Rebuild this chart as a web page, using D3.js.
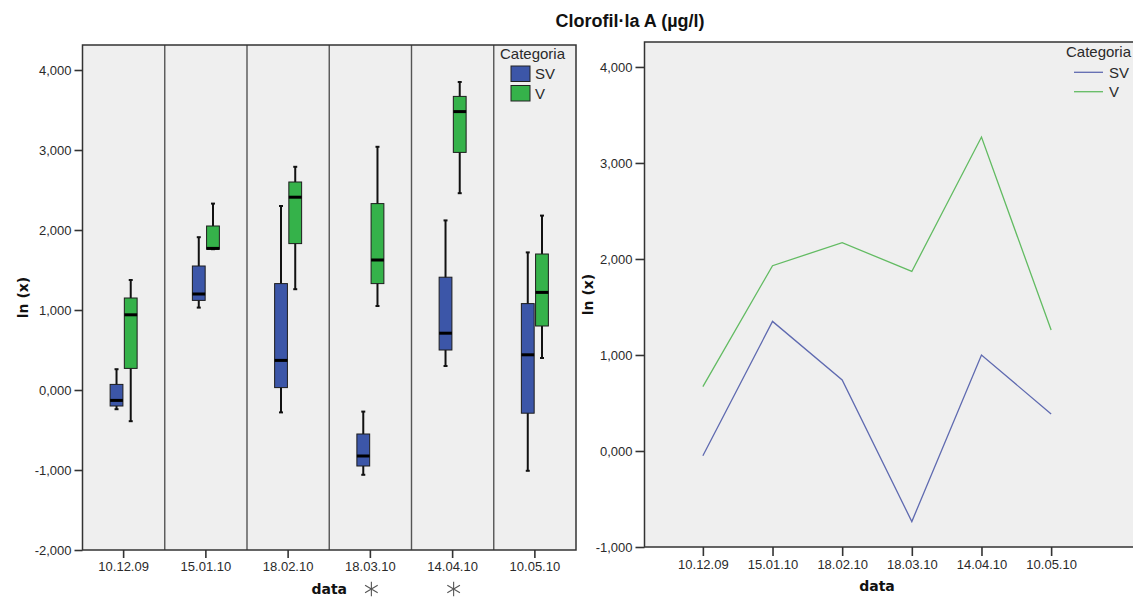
<!DOCTYPE html>
<html><head><meta charset="utf-8">
<script src="https://cdn.jsdelivr.net/npm/d3@7"></script>
<style>
body{margin:0;background:#fff;}
svg{display:block;font-family:"Liberation Sans",Arial,sans-serif;}
</style>
</head><body>
<svg id="c" width="1133" height="597"></svg>
<script>
// ---------- DATA ----------
const dates = ["10.12.09","15.01.10","18.02.10","18.03.10","14.04.10","10.05.10"];
const categories = ["SV","V"];
// boxplot stats per date: [min, q1, median, q3, max]
const boxSV = [
  [-0.24, -0.20, -0.13, 0.07, 0.26],
  [1.03, 1.12, 1.20, 1.55, 1.91],
  [-0.28, 0.03, 0.37, 1.33, 2.30],
  [-1.06, -0.95, -0.825, -0.55, -0.27],
  [0.30, 0.50, 0.71, 1.41, 2.12],
  [-1.01, -0.29, 0.44, 1.08, 1.72]
];
const boxV = [
  [-0.39, 0.27, 0.94, 1.15, 1.375],
  [1.76, 1.76, 1.77, 2.05, 2.33],
  [1.26, 1.83, 2.41, 2.60, 2.79],
  [1.05, 1.33, 1.625, 2.33, 3.04],
  [2.46, 2.97, 3.48, 3.67, 3.85],
  [0.40, 0.80, 1.22, 1.70, 2.18]
];
// means per date (line chart)
const meanSV = [-0.05, 1.35, 0.74, -0.735, 1.00, 0.385];
const meanV  = [0.67, 1.93, 2.17, 1.87, 3.27, 1.26];
const yTicksLeft  = [-2, -1, 0, 1, 2, 3, 4];
const yTicksRight = [-1, 0, 1, 2, 3, 4];
const significantDates = ["18.03.10", "14.04.10"];
const title = "Clorofil·la A (µg/l)";
const yTitle = "ln (x)";
const xTitle = "data";
const legendTitle = "Categoria";

// ---------- STYLE ----------
const fillColors = {SV: "#3c56a8", V: "#35b24a"};
const lineColors = {SV: "#5f6ab0", V: "#62bb62"};
const plotBg = "#efefef";
const textCol = "#2a2a2a";

const svg = d3.select("#c");
const fmt = d3.formatLocale({decimal: ",", thousands: ".", grouping: [3], currency: ["", ""], minus: "-"}).format(".3f");

function styleAxis(g, tickW) {
  g.select(".domain").remove();
  g.selectAll(".tick line").attr("stroke", "#333").attr("stroke-width", tickW);
  g.selectAll(".tick text").attr("fill", textCol).style("font-size", "13px")
    .style("font-family", '"Liberation Sans",Arial,sans-serif');
}

// title
svg.append("text").attr("x", 630).attr("y", 26.5).attr("text-anchor", "middle")
  .style("font-weight", "bold").style("font-size", "18px").attr("fill", "#111").text(title);

// ================= LEFT: boxplots =================
const L = {x0: 82.5, x1: 576, y0: 45, y1: 550};
const xL = d3.scaleBand().domain(dates).range([L.x0, L.x1]);
const yL = d3.scaleLinear().domain([-2, 4.3125]).range([L.y1, L.y0]);
const xSub = d3.scaleBand().domain(categories).range([-13.5, 13.5]).paddingInner(0.1);

const gL = svg.append("g");
gL.append("rect").attr("x", L.x0).attr("y", L.y0).attr("width", L.x1 - L.x0).attr("height", L.y1 - L.y0)
  .attr("fill", plotBg);
// panel dividers
gL.selectAll("line.div").data(dates.slice(1)).join("line").attr("class", "div")
  .attr("x1", d => xL(d)).attr("x2", d => xL(d)).attr("y1", L.y0).attr("y2", L.y1)
  .attr("stroke", "#555").attr("stroke-width", 1.4);

const boxData = [];
dates.forEach((d, i) => {
  boxData.push({date: d, cat: "SV", s: boxSV[i]});
  boxData.push({date: d, cat: "V", s: boxV[i]});
});
const bw = xSub.bandwidth();
const bg = gL.selectAll("g.box").data(boxData).join("g").attr("class", "box")
  .attr("transform", d => `translate(${xL(d.date) + xL.bandwidth() / 2 + xSub(d.cat)},0)`);
// whisker
bg.append("line").attr("x1", bw / 2).attr("x2", bw / 2)
  .attr("y1", d => yL(d.s[0])).attr("y2", d => yL(d.s[4])).attr("stroke", "#111").attr("stroke-width", 2);
bg.append("line").attr("x1", bw / 2 - 2).attr("x2", bw / 2 + 2)
  .attr("y1", d => yL(d.s[0])).attr("y2", d => yL(d.s[0])).attr("stroke", "#111").attr("stroke-width", 2);
bg.append("line").attr("x1", bw / 2 - 2).attr("x2", bw / 2 + 2)
  .attr("y1", d => yL(d.s[4])).attr("y2", d => yL(d.s[4])).attr("stroke", "#111").attr("stroke-width", 2);
// box
bg.append("rect").attr("x", 0).attr("width", bw)
  .attr("y", d => yL(d.s[3])).attr("height", d => Math.max(1, yL(d.s[1]) - yL(d.s[3])))
  .attr("fill", d => fillColors[d.cat]).attr("stroke", "#1d1d1d").attr("stroke-width", 1);
// median
bg.append("line").attr("x1", 0).attr("x2", bw)
  .attr("y1", d => yL(d.s[2])).attr("y2", d => yL(d.s[2])).attr("stroke", "#000").attr("stroke-width", 3);

// frame
gL.append("rect").attr("x", L.x0).attr("y", L.y0).attr("width", L.x1 - L.x0).attr("height", L.y1 - L.y0)
  .attr("fill", "none").attr("stroke", "#333").attr("stroke-width", 1.5);

// axes
gL.append("g").attr("transform", `translate(${L.x0},0)`)
  .call(d3.axisLeft(yL).tickValues(yTicksLeft).tickFormat(fmt).tickSize(8).tickPadding(3))
  .call(g => styleAxis(g, 1.6));
gL.append("g").attr("transform", `translate(0,${L.y1})`)
  .call(d3.axisBottom(xL).tickSize(8).tickPadding(5))
  .call(g => styleAxis(g, 1.6))
  .call(g => g.selectAll(".tick text").attr("dy", "0.71em").attr("y", 12));

// titles
gL.append("text").attr("x", (L.x0 + L.x1) / 2).attr("y", 594).attr("text-anchor", "middle")
  .style("font-family", '"DejaVu Sans",Verdana,sans-serif').style("font-weight", "bold").style("font-size", "14px")
  .attr("fill", "#111").text(xTitle);
gL.append("text").attr("transform", `translate(28,${(L.y0 + L.y1) / 2}) rotate(-90)`).attr("text-anchor", "middle")
  .style("font-family", '"DejaVu Sans",Verdana,sans-serif').style("font-weight", "bold").style("font-size", "14px")
  .attr("fill", "#111").text(yTitle);

// significance asterisks
gL.selectAll("path.sig").data(significantDates).join("path").attr("class", "sig")
  .attr("d", d3.symbol(d3.symbolAsterisk, 150))
  .attr("transform", d => `translate(${xL(d) + xL.bandwidth() / 2 + 1},589)`)
  .attr("fill", "none").attr("stroke", "#555").attr("stroke-width", 1.1);

// legend (left)
const lgL = gL.append("g");
lgL.append("text").attr("x", 500).attr("y", 59).style("font-size", "15px").attr("fill", textCol).text(legendTitle);
categories.forEach((c, i) => {
  lgL.append("rect").attr("x", 511).attr("y", 66 + i * 19.5).attr("width", 19).attr("height", 15.5)
    .attr("fill", fillColors[c]).attr("stroke", "#222").attr("stroke-width", 1);
  lgL.append("text").attr("x", 535).attr("y", 79.2 + i * 19.5).style("font-size", "15px").attr("fill", textCol).text(c);
});

// ================= RIGHT: lines =================
const R = {x0: 644.5, x1: 1145, y0: 42, y1: 547};
const xR = d3.scalePoint().domain(dates).range([644.5, 1109.5]).padding(0.838);
const yR = d3.scaleLinear().domain([-1, 4.26]).range([R.y1, R.y0]);
const gR = svg.append("g");
gR.append("rect").attr("x", R.x0).attr("y", R.y0).attr("width", R.x1 - R.x0).attr("height", R.y1 - R.y0)
  .attr("fill", plotBg).attr("stroke", "#333").attr("stroke-width", 1.5);

const series = [{cat: "SV", vals: meanSV}, {cat: "V", vals: meanV}];
const line = d3.line().x((v, i) => xR(dates[i])).y(v => yR(v));
gR.selectAll("path.ln").data(series).join("path").attr("class", "ln")
  .attr("d", d => line(d.vals)).attr("fill", "none")
  .attr("stroke", d => lineColors[d.cat]).attr("stroke-width", 1.3);

gR.append("g").attr("transform", `translate(${R.x0},0)`)
  .call(d3.axisLeft(yR).tickValues(yTicksRight).tickFormat(fmt).tickSize(9).tickPadding(3))
  .call(g => styleAxis(g, 1.6));
gR.append("g").attr("transform", `translate(0,${R.y1})`)
  .call(d3.axisBottom(xR).tickSize(9).tickPadding(5))
  .call(g => styleAxis(g, 1.6))
  .call(g => g.selectAll(".tick text").attr("dy", "0.71em").attr("y", 13));

gR.append("text").attr("x", (xR(dates[0]) + xR(dates[dates.length - 1])) / 2).attr("y", 591).attr("text-anchor", "middle")
  .style("font-family", '"DejaVu Sans",Verdana,sans-serif').style("font-weight", "bold").style("font-size", "14px")
  .attr("fill", "#111").text(xTitle);
gR.append("text").attr("transform", `translate(593,${(R.y0 + R.y1) / 2}) rotate(-90)`).attr("text-anchor", "middle")
  .style("font-family", '"DejaVu Sans",Verdana,sans-serif').style("font-weight", "bold").style("font-size", "14px")
  .attr("fill", "#111").text(yTitle);

// legend (right)
const lgR = gR.append("g");
lgR.append("text").attr("x", 1066).attr("y", 57).style("font-size", "15px").attr("fill", textCol).text(legendTitle);
categories.forEach((c, i) => {
  lgR.append("line").attr("x1", 1074).attr("x2", 1103).attr("y1", 72.3 + i * 19.4).attr("y2", 72.3 + i * 19.4)
    .attr("stroke", lineColors[c]).attr("stroke-width", 1.3);
  lgR.append("text").attr("x", 1109).attr("y", 77.7 + i * 19.4).style("font-size", "15px").attr("fill", textCol).text(c);
});
</script>
</body></html>
